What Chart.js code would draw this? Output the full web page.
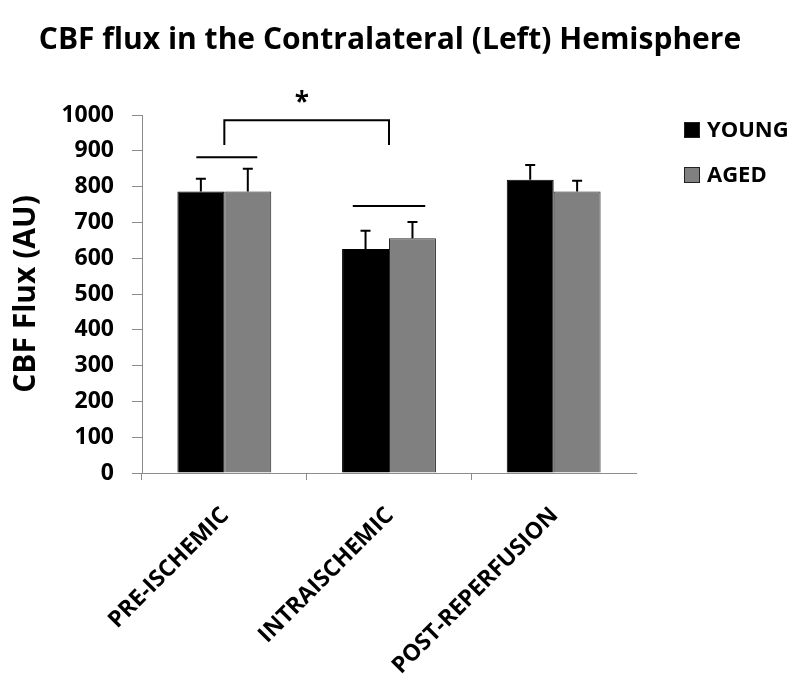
<!DOCTYPE html>
<html lang="en">
<head>
<meta charset="UTF-8">
<title>CBF flux in the Contralateral (Left) Hemisphere</title>
<script src="https://cdn.jsdelivr.net/npm/chart.js"></script>
<style>
  html, body { margin: 0; padding: 0; background: #fff; }
</style>
</head>
<body>
<canvas id="cbfChart" width="800" height="683"></canvas>
<script>
  // values
  const phases = ['PRE-ISCHEMIC', 'INTRAISCHEMIC', 'POST-REPERFUSION'];
  const youngFlux = [786, 626, 819];
  const agedFlux = [786, 656, 786];
  const youngErr = [36, 51, 41];   // upper error bar length
  const agedErr = [64, 45, 30];
  const yTicks = [0, 100, 200, 300, 400, 500, 600, 700, 800, 900, 1000];

  // significance marks, x in category units, y in flux units
  const groupLines = [
    { from: -0.17, to: 0.2, y: 882 },
    { from: 0.78, to: 1.22, y: 746 }
  ];
  const bracket = { from: 0, to: 1, top: 985, bottom: 916, star: '*', starX: 0.47, starY: 1050 };

  const FONT = '"Open Sans", "DejaVu Sans", sans-serif';
  const AXIS_GRAY = '#8c8c8c';

  // error bars and significance brackets
  const marksPlugin = {
    id: 'marks',
    afterDatasetsDraw(chart) {
      const ctx = chart.ctx;
      const x = chart.scales.x, y = chart.scales.y;
      const errs = [youngErr, agedErr];
      ctx.save();
      ctx.strokeStyle = '#000';
      ctx.lineWidth = 2;
      chart.data.datasets.forEach((ds, di) => {
        chart.getDatasetMeta(di).data.forEach((bar, i) => {
          const top = y.getPixelForValue(ds.data[i] + errs[di][i]);
          ctx.beginPath();
          ctx.moveTo(bar.x, bar.y);
          ctx.lineTo(bar.x, top);
          ctx.moveTo(bar.x - 5, top);
          ctx.lineTo(bar.x + 5, top);
          ctx.stroke();
        });
      });

      groupLines.forEach(g => {
        const py = y.getPixelForValue(g.y);
        ctx.beginPath();
        ctx.moveTo(x.getPixelForValue(g.from), py);
        ctx.lineTo(x.getPixelForValue(g.to), py);
        ctx.stroke();
      });

      const bx1 = x.getPixelForValue(bracket.from), bx2 = x.getPixelForValue(bracket.to);
      const bTop = y.getPixelForValue(bracket.top), bBot = y.getPixelForValue(bracket.bottom);
      ctx.beginPath();
      ctx.moveTo(bx1, bBot);
      ctx.lineTo(bx1, bTop);
      ctx.lineTo(bx2, bTop);
      ctx.lineTo(bx2, bBot);
      ctx.stroke();

      ctx.fillStyle = '#000';
      ctx.font = 'bold 26px ' + FONT;
      ctx.textAlign = 'center';
      ctx.textBaseline = 'middle';
      ctx.fillText(bracket.star, x.getPixelForValue(bracket.starX), y.getPixelForValue(bracket.starY) + 6);
      ctx.restore();
    },
    afterDraw(chart) {
      const ctx = chart.ctx;
      ctx.save();
      // title
      ctx.fillStyle = '#000';
      ctx.font = 'bold 30px ' + FONT;
      ctx.textAlign = 'center';
      ctx.textBaseline = 'middle';
      ctx.fillText('CBF flux in the Contralateral (Left) Hemisphere', 390, 40);

      // legend
      ctx.font = 'bold 22px ' + FONT;
      ctx.textAlign = 'left';
      chart.data.datasets.forEach((ds, i) => {
        const cy = 130 + i * 45;
        ctx.fillStyle = ds.backgroundColor;
        ctx.fillRect(684, cy - 8, 16, 16);
        ctx.strokeStyle = '#222';
        ctx.lineWidth = 1;
        ctx.strokeRect(684.5, cy - 7.5, 15, 15);
        ctx.fillStyle = '#000';
        ctx.fillText(ds.label, 707, cy + 1);
      });
      ctx.restore();
    }
  };

  new Chart(document.getElementById('cbfChart'), {
    type: 'bar',
    data: {
      labels: phases,
      datasets: [
        { label: 'YOUNG', data: youngFlux, backgroundColor: '#000000', borderColor: '#000000', borderWidth: 1 },
        { label: 'AGED', data: agedFlux, backgroundColor: '#808080', borderColor: '#262626', borderWidth: 1 }
      ]
    },
    options: {
      responsive: false,
      animation: false,
      layout: { padding: { top: 115, right: 164, left: 0, bottom: 0 } },
      datasets: { bar: { categoryPercentage: 0.57, barPercentage: 1.0 } },
      plugins: {
        legend: { display: false },
        tooltip: { enabled: false }
      },
      scales: {
        x: {
          afterFit(scale) { scale.height = 210; },
          border: { color: AXIS_GRAY, width: 1 },
          grid: {
            drawOnChartArea: false,
            tickLength: 7,
            color: ctx => ctx.type === 'tick' ? AXIS_GRAY : 'rgba(0,0,0,0)'
          },
          ticks: {
            color: '#000',
            font: { family: FONT, size: 23, weight: 'bold' },
            maxRotation: 45,
            minRotation: 45,
            padding: 22,
            labelOffset: 1
          }
        },
        y: {
          min: 0,
          max: 1000,
          afterFit(scale) { scale.width = 142; },
          afterBuildTicks(scale) { scale.ticks = yTicks.map(v => ({ value: v })); },
          border: { color: AXIS_GRAY, width: 1 },
          grid: { drawOnChartArea: false, tickLength: 10, color: AXIS_GRAY },
          ticks: {
            color: '#000',
            font: { family: FONT, size: 23, weight: 'bold' },
            padding: 18,
            callback: v => String(v)
          },
          title: {
            display: true,
            text: 'CBF Flux (AU)',
            color: '#000',
            font: { family: FONT, size: 30, weight: 'bold' },
            padding: { top: 8, bottom: 0 }
          }
        }
      }
    },
    plugins: [marksPlugin]
  });
</script>
</body>
</html>
